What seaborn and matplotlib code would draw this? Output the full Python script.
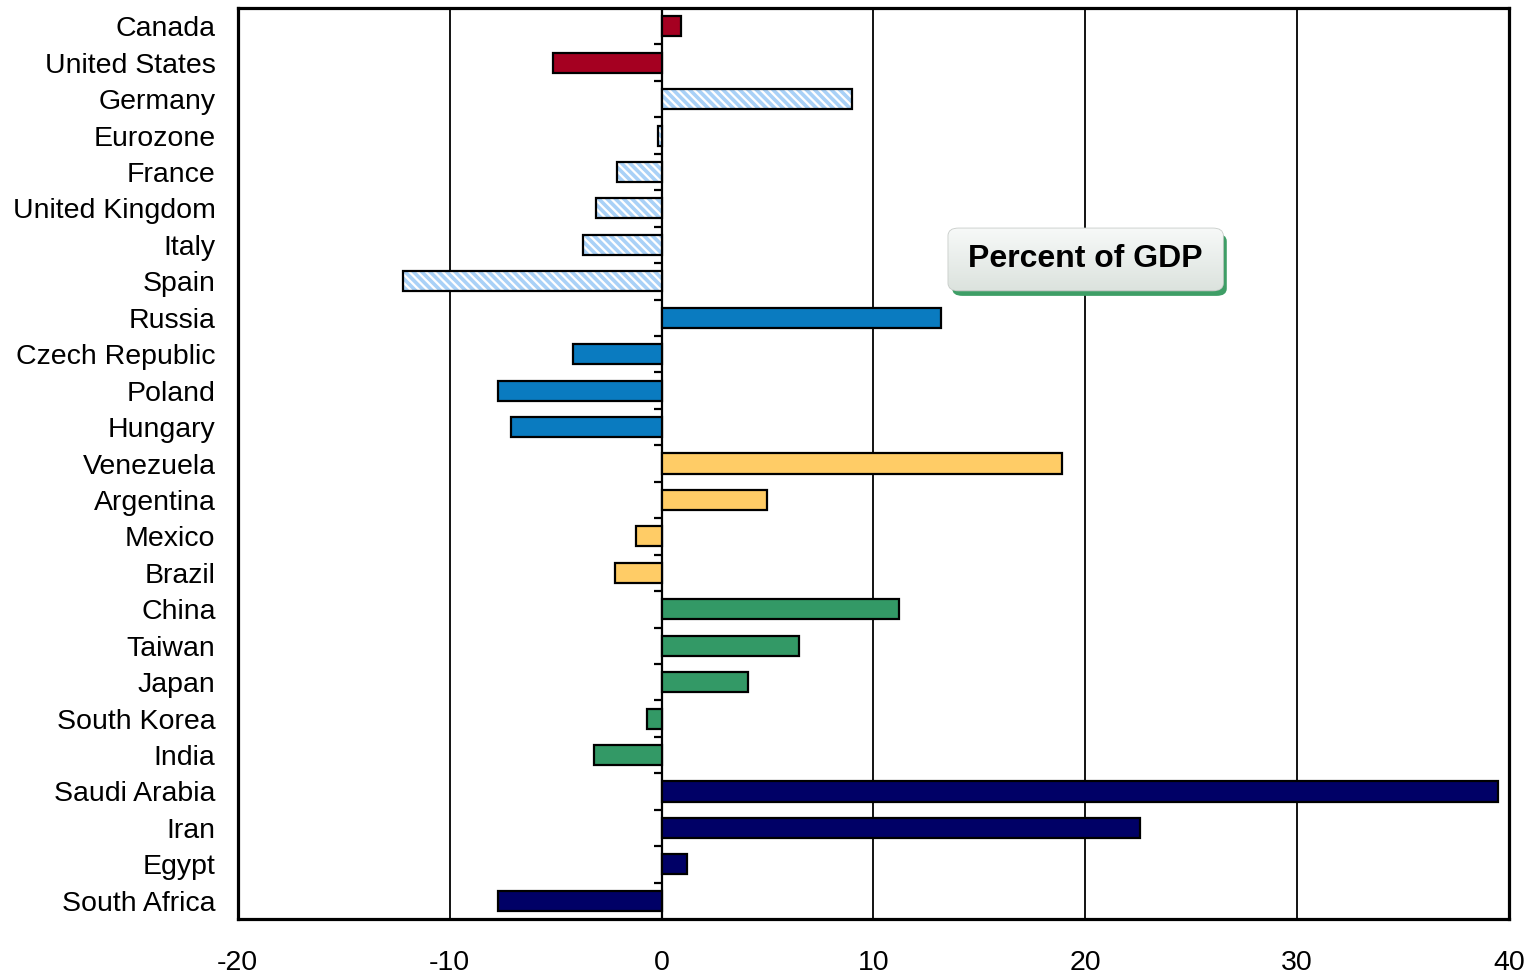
import numpy as np
import pandas as pd
import matplotlib
matplotlib.use("Agg")
import matplotlib.pyplot as plt
import seaborn as sns
from matplotlib.patches import FancyBboxPatch, Rectangle

countries = ["Canada", "United States", "Germany", "Eurozone", "France",
             "United Kingdom", "Italy", "Spain", "Russia", "Czech Republic",
             "Poland", "Hungary", "Venezuela", "Argentina", "Mexico", "Brazil",
             "China", "Taiwan", "Japan", "South Korea", "India",
             "Saudi Arabia", "Iran", "Egypt", "South Africa"]
values = [0.9, -5.1, 9.0, -0.15, -2.1, -3.1, -3.7, -12.2, 13.2, -4.2,
          -7.7, -7.1, 18.9, 5.0, -1.2, -2.2, 11.2, 6.5, 4.1, -0.7, -3.2,
          39.5, 22.6, 1.2, -7.7]
groups = ["North America"] * 2 + ["Western Europe"] * 6 + ["Eastern Europe"] * 4 \
    + ["Latin America"] * 4 + ["Asia"] * 5 + ["Middle East & Africa"] * 4
group_colors = {
    "North America": "#A50021",
    "Western Europe": "#FFFFFF",
    "Eastern Europe": "#0A7BC0",
    "Latin America": "#FFCC66",
    "Asia": "#339966",
    "Middle East & Africa": "#000066",
}
hatched_group = "Western Europe"
hatch_color = "#A9D1F7"
x_ticks = [-20, -10, 0, 10, 20, 30, 40]
box_text = "Percent of GDP"

df = pd.DataFrame({"country": countries, "value": values, "group": groups})

sns.set_style("white")
plt.rcParams["font.family"] = ["Liberation Sans", "DejaVu Sans"]
plt.rcParams["hatch.linewidth"] = 2.6
plt.rcParams["axes.unicode_minus"] = False
plt.rcParams["text.color"] = "black"
plt.rcParams["xtick.color"] = "black"
plt.rcParams["ytick.color"] = "black"

fig = plt.figure(figsize=(15.34, 9.75), dpi=100)
ax = fig.add_axes([0.155, 0.0574, 0.8287, 0.9344])

# vertical grid lines behind the bars
for xv in x_ticks[1:-1]:
    if xv != 0:
        ax.axvline(xv, color="black", lw=1.3, zorder=0)

sns.barplot(data=df, x="value", y="country", hue="country",
            palette=[group_colors[g] for g in groups], legend=False,
            width=0.55, edgecolor="black", linewidth=1.6, saturation=1,
            orient="h", ax=ax, zorder=2)

# hatched fill for the Western European bars, black outline on top
for patch, g in zip(ax.patches, groups):
    if g == hatched_group:
        patch.set_facecolor("white")
        patch.set_edgecolor(hatch_color)
        patch.set_hatch("\\\\\\\\")
        patch.set_linewidth(0)
        ax.add_patch(Rectangle(patch.get_xy(), patch.get_width(), patch.get_height(),
                               fill=False, edgecolor="black", lw=1.6, zorder=3))

# zero line with small category ticks
ax.axvline(0, color="black", lw=1.6, zorder=1)
n = len(countries)
ax.hlines(np.arange(n - 1) + 0.5, -0.35, 0, color="black", lw=1.6, zorder=1)

ax.set_xlim(x_ticks[0], x_ticks[-1])
ax.set_ylim(n - 0.5, -0.5)
ax.set_xticks(x_ticks)
ax.set_xlabel("")
ax.set_ylabel("")
ax.tick_params(axis="both", length=0, labelsize=20.5, labelcolor="black")
ax.tick_params(axis="y", pad=16)
ax.tick_params(axis="x", pad=22)
for sp in ax.spines.values():
    sp.set_visible(True)
    sp.set_color("black")
    sp.set_linewidth(2.3)

# labelled box with shadow and soft gradient
bx, by, bw, bh = 0.559, 0.690, 0.216, 0.068
shadow = FancyBboxPatch((bx + 0.003, by - 0.006), bw, bh,
                        boxstyle="round,pad=0,rounding_size=0.008",
                        transform=ax.transAxes, facecolor="#3E9E66",
                        edgecolor="none", zorder=4)
ax.add_patch(shadow)
box = FancyBboxPatch((bx, by), bw, bh,
                     boxstyle="round,pad=0,rounding_size=0.008",
                     transform=ax.transAxes, facecolor="#EEF2EF",
                     edgecolor="#C8CCC9", lw=1.2, zorder=5)
ax.add_patch(box)
grad = np.linspace(1, 0, 64).reshape(-1, 1)
img = ax.imshow(grad, extent=[bx, bx + bw, by, by + bh], transform=ax.transAxes,
                cmap=matplotlib.colors.LinearSegmentedColormap.from_list(
                    "g", ["#DCE3DE", "#F7F9F8"]),
                aspect="auto", zorder=5.5)
img.set_clip_path(box)
ax.set_xlim(x_ticks[0], x_ticks[-1])
ax.set_ylim(n - 0.5, -0.5)
ax.text(bx + bw / 2, by + bh / 2, box_text, transform=ax.transAxes,
        ha="center", va="center", fontsize=23, fontweight="bold",
        color="black", zorder=6)

fig.savefig("out.png", dpi=100)
